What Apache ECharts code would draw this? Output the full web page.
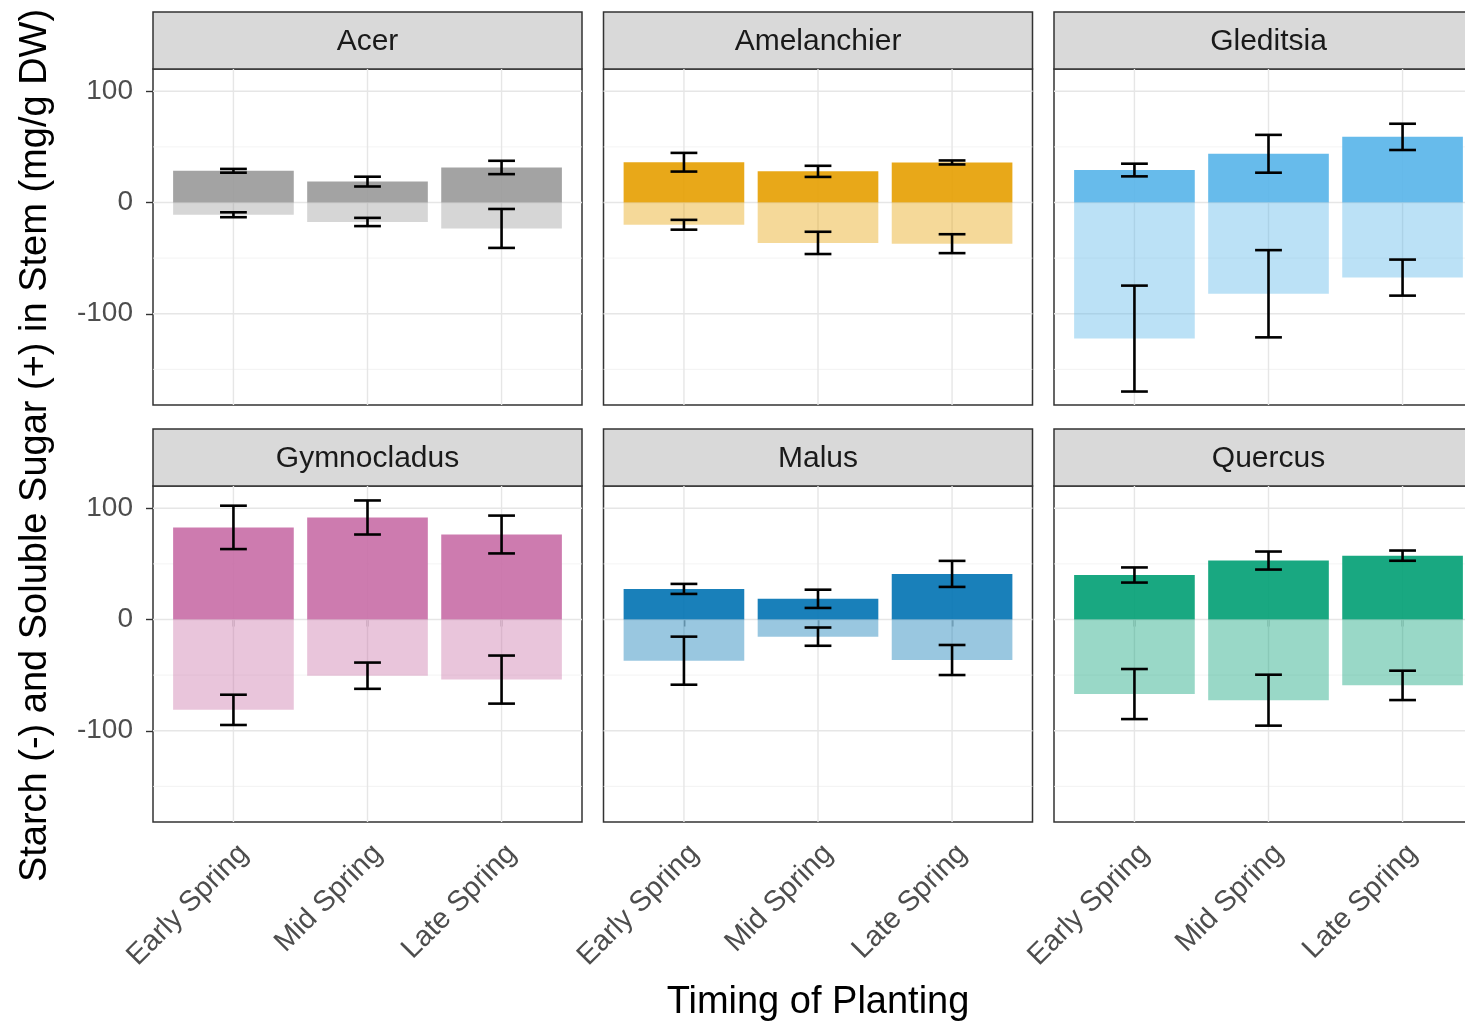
<!DOCTYPE html>
<html><head><meta charset="utf-8">
<script src="https://cdn.jsdelivr.net/npm/echarts@6/dist/echarts.min.js"></script>
<style>html,body{margin:0;padding:0;background:#fff}#c{width:1465px;height:1024px}</style>
</head><body><div id="c"></div>
<script>
// ---- data ----
const genera = ['Acer', 'Amelanchier', 'Gleditsia', 'Gymnocladus', 'Malus', 'Quercus'];
const timings = ['Early Spring', 'Mid Spring', 'Late Spring'];
// soluble sugar (+), mean and error, per genus (rows) and timing (cols)
const sugarMean = [
  [28.5, 18.8, 31.5],
  [36.2, 28.0, 36.0],
  [29.2, 43.8, 59.0],
  [82.8, 91.7, 76.4],
  [27.5, 18.6, 41.0],
  [40.0, 53.0, 57.4]
];
const sugarErr = [
  [1.7, 4.4, 6.0],
  [8.4, 5.0, 1.8],
  [5.7, 17.0, 11.8],
  [19.5, 15.3, 17.0],
  [4.5, 8.2, 11.7],
  [6.8, 8.1, 4.6]
];
// starch (-)
const starchMean = [
  [-11.0, -17.5, -23.3],
  [-20.0, -36.3, -37.0],
  [-122.3, -82.0, -67.5],
  [-81.2, -50.5, -54.0],
  [-37.0, -15.4, -36.4],
  [-67.0, -72.5, -59.2]
];
const starchErr = [
  [2.2, 3.7, 17.5],
  [4.4, 10.0, 8.5],
  [47.6, 39.2, 16.2],
  [13.6, 11.8, 21.6],
  [21.6, 8.2, 13.5],
  [22.5, 22.9, 13.2]
];
const yTicks = [-100, 0, 100];
const gridMajor = [-100, 0, 100];
const gridMinor = [-150, -50, 50];
const yMin = -182, yMax = 120;
const genusColors = ['#999999', '#E69F00', '#56B4E9', '#C86DA6', '#0072B2', '#009E73'];

// ---- layout / style ----
const FONT = '"Liberation Sans", Arial, Helvetica, sans-serif';
const colLeft = [153, 603.5, 1054];
const panelW = 429;
const rowTop = [69, 486];
const plotH = 336;
const stripH = 57;
const band = panelW / 3.2;
const inset = band * 0.1;

function rgba(hex, a) {
  const r = parseInt(hex.slice(1, 3), 16), g = parseInt(hex.slice(3, 5), 16), b = parseInt(hex.slice(5, 7), 16);
  return `rgba(${r},${g},${b},${a})`;
}

const grid = [], xAxis = [], yAxis = [], series = [], graphic = [];

genera.forEach((name, i) => {
  const r = Math.floor(i / 3), c = i % 3;
  const left = colLeft[c], top = rowTop[r];
  const isLeft = c === 0, isBottom = r === 1;
  const fi = grid.length;
  // frame grid
  grid.push({left: left, top: top, width: panelW, height: plotH, show: true,
    backgroundColor: '#ffffff', borderColor: '#333333', borderWidth: 1.5,
    containLabel: false, outerBoundsMode: 'none'});
  xAxis.push({type: 'value', gridIndex: fi, min: 0, max: 1, show: false});
  yAxis.push({type: 'value', gridIndex: fi, min: yMin, max: yMax,
    axisLine: {show: false},
    splitLine: {show: false},
    axisTick: {show: isLeft, length: 7, customValues: yTicks, lineStyle: {color: '#333333', width: 1.4}},
    axisLabel: {show: isLeft, customValues: yTicks, margin: 20, fontSize: 28, color: '#4d4d4d', fontFamily: FONT}
  });
  // gridlines (horizontal) on frame
  series.push({type: 'custom', xAxisIndex: fi, yAxisIndex: fi, z: 1, silent: true,
    data: gridMajor.map(v => [v, 1]).concat(gridMinor.map(v => [v, 0])),
    renderItem: (params, api) => {
      const v = api.value(0), major = api.value(1) === 1;
      const p1 = api.coord([0, v]), p2 = api.coord([1, v]);
      return {type: 'line', shape: {x1: p1[0], y1: p1[1], x2: p2[0], y2: p2[1]},
        style: {stroke: major ? '#e6e6e6' : '#f0f0f0', lineWidth: major ? 1.4 : 0.8}};
    }
  });
  // data grid
  const di = grid.length;
  grid.push({left: left + inset, top: top, width: panelW - 2 * inset, height: plotH,
    containLabel: false, outerBoundsMode: 'none'});
  xAxis.push({type: 'category', gridIndex: di, data: timings, boundaryGap: true,
    axisLine: {show: false},
    axisTick: {show: isBottom, alignWithLabel: true, length: 7, lineStyle: {color: '#333333', width: 1.4}},
    axisLabel: {show: isBottom, rotate: 45, margin: 17, verticalAlign: 'top', fontSize: 29, color: '#4d4d4d', fontFamily: FONT, interval: 0},
    splitLine: {show: false}
  });
  yAxis.push({type: 'value', gridIndex: di, min: yMin, max: yMax, show: false});
  // vertical gridlines
  series.push({type: 'custom', xAxisIndex: di, yAxisIndex: di, z: 1, silent: true,
    data: timings.map((t, k) => [k]),
    renderItem: (params, api) => {
      const cs = params.coordSys;
      const p = api.coord([api.value(0), 0]);
      return {type: 'line', shape: {x1: p[0], y1: cs.y, x2: p[0], y2: cs.y + cs.height},
        style: {stroke: '#e6e6e6', lineWidth: 1.4}};
    }
  });
  // bars
  series.push({type: 'bar', xAxisIndex: di, yAxisIndex: di, z: 2, barWidth: '90%', barGap: '-100%',
    data: sugarMean[i], itemStyle: {color: rgba(genusColors[i], 0.9)}, silent: true});
  series.push({type: 'bar', xAxisIndex: di, yAxisIndex: di, z: 2, barWidth: '90%', barGap: '-100%',
    data: starchMean[i], itemStyle: {color: rgba(genusColors[i], 0.4)}, silent: true});
  // error bars
  const errData = [];
  timings.forEach((t, k) => {
    errData.push([k, sugarMean[i][k] - sugarErr[i][k], sugarMean[i][k] + sugarErr[i][k]]);
    errData.push([k, starchMean[i][k] - starchErr[i][k], starchMean[i][k] + starchErr[i][k]]);
  });
  series.push({type: 'custom', xAxisIndex: di, yAxisIndex: di, z: 3, silent: true,
    data: errData,
    renderItem: (params, api) => {
      const x = api.value(0);
      const pLo = api.coord([x, api.value(1)]), pHi = api.coord([x, api.value(2)]);
      const half = api.size([1, 0])[0] * 0.1;
      const st = {stroke: '#000000', lineWidth: 2.6};
      return {type: 'group', children: [
        {type: 'line', shape: {x1: pLo[0], y1: pLo[1], x2: pHi[0], y2: pHi[1]}, style: st},
        {type: 'line', shape: {x1: pLo[0] - half, y1: pLo[1], x2: pLo[0] + half, y2: pLo[1]}, style: st},
        {type: 'line', shape: {x1: pHi[0] - half, y1: pHi[1], x2: pHi[0] + half, y2: pHi[1]}, style: st}
      ]};
    }
  });
  // strip
  graphic.push({type: 'rect', shape: {x: left, y: top - stripH, width: panelW, height: stripH},
    style: {fill: '#d9d9d9', stroke: '#333333', lineWidth: 1.5}, silent: true});
  graphic.push({type: 'text', x: left + panelW / 2, y: top - stripH / 2 + 1,
    style: {text: name, fill: '#1a1a1a', font: `30px ${FONT}`, textAlign: 'center', textVerticalAlign: 'middle'}, silent: true});
});

graphic.push({type: 'text', x: colLeft[1] + panelW / 2, y: 1003,
  style: {text: 'Timing of Planting', fill: '#000000', font: `38px ${FONT}`, textAlign: 'center', textVerticalAlign: 'middle'}, silent: true});
graphic.push({type: 'text', x: 36, y: (rowTop[0] + rowTop[1] + plotH) / 2, rotation: Math.PI / 2,
  style: {text: 'Starch (-) and Soluble Sugar (+) in Stem (mg/g DW)', fill: '#000000', font: `38px ${FONT}`, textAlign: 'center', textVerticalAlign: 'middle'}, silent: true});

const chart = echarts.init(document.getElementById('c'), null, {renderer: 'canvas'});
chart.setOption({animation: false, backgroundColor: '#ffffff', grid, xAxis, yAxis, series, graphic});
</script></body></html>
